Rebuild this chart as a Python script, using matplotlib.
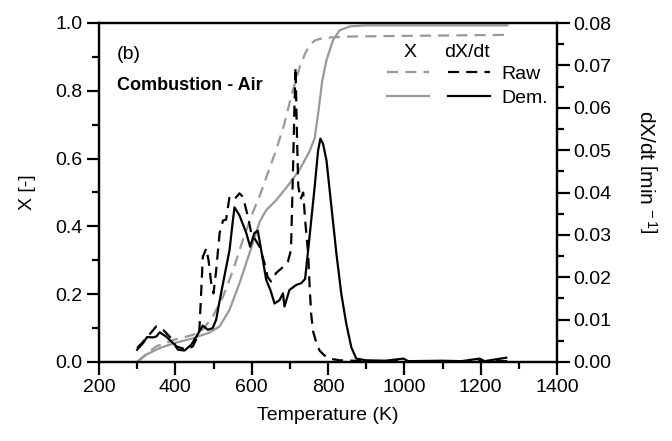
import matplotlib
matplotlib.use("Agg")
import matplotlib.pyplot as plt
from matplotlib.lines import Line2D
from matplotlib.legend_handler import HandlerTuple
from matplotlib.ticker import MultipleLocator

plt.rcParams['font.family'] = ['Liberation Sans', 'DejaVu Sans']
plt.rcParams['mathtext.fontset'] = 'custom'
plt.rcParams['mathtext.rm'] = 'Liberation Sans'
plt.rcParams['mathtext.it'] = 'Liberation Sans:italic'

# ---- data ----
# Conversion X, raw sample (gray dashed)
T_x_raw = [300, 325, 350, 398, 446, 472, 498, 525, 551, 577, 599, 621, 642, 664,
           685, 705, 726, 740, 752, 765, 778, 800, 850, 1000, 1270]
X_raw = [0.0, 0.025, 0.046, 0.066, 0.080, 0.095, 0.134, 0.193, 0.27, 0.36, 0.43, 0.49,
         0.556, 0.625, 0.70, 0.79, 0.87, 0.91, 0.935, 0.948, 0.953, 0.957, 0.96, 0.962, 0.965]

# Conversion X, demineralized sample (gray solid)
T_x_dem = [300, 324, 359, 398, 446, 490, 516, 542, 568, 594, 621, 638, 664, 699, 725,
           751, 765, 775, 785, 796, 813, 830, 857, 900, 1270]
X_dem = [0.0, 0.022, 0.041, 0.056, 0.070, 0.087, 0.105, 0.154, 0.232, 0.32, 0.414, 0.448,
         0.477, 0.526, 0.566, 0.62, 0.66, 0.74, 0.83, 0.89, 0.949, 0.978, 0.99, 0.993, 0.993]

# Rate dX/dt, raw sample (black dashed), min^-1
T_r_raw = [300, 324, 350, 368, 385, 402, 429, 446, 460, 463, 468, 472, 481, 487, 494, 500,
           507, 516, 525, 533, 542, 555, 568, 577, 590, 599, 621, 634, 642, 651, 664, 682,
           695, 703, 708, 712, 715, 718, 722, 728, 735, 740, 748, 752, 756, 761, 770, 778,
           790, 804, 830, 900, 1000, 1270]
R_raw = [0.0033, 0.0056, 0.0084, 0.0076, 0.0060, 0.0037, 0.0029, 0.0037, 0.0064, 0.0076,
         0.0170, 0.0248, 0.0268, 0.0240, 0.0186, 0.0162, 0.0216, 0.0304, 0.0334, 0.0336,
         0.0390, 0.0384, 0.0398, 0.0390, 0.0344, 0.0304, 0.0272, 0.0232, 0.0200, 0.0190,
         0.0210, 0.0224, 0.0237, 0.0264, 0.0440, 0.0600, 0.0696, 0.0560, 0.0416, 0.0384,
         0.0400, 0.0336, 0.0256, 0.0176, 0.0112, 0.0072, 0.0044, 0.0027, 0.0016, 0.0008,
         0.0004, 0.0002, 0.0002, 0.0002]

# Rate dX/dt, demineralized sample (black solid), min^-1
T_r_dem = [300, 315, 326, 340, 350, 359, 376, 390, 398, 407, 424, 442, 455, 463, 472, 485,
           498, 507, 516, 525, 542, 550, 555, 568, 586, 596, 607, 616, 625, 638, 649, 660,
           673, 682, 686, 699, 717, 730, 740, 748, 756, 765, 774, 780, 787, 796, 809, 822,
           835, 848, 861, 874, 900, 950, 998, 1010, 1100, 1150, 1197, 1210, 1267]
R_dem = [0.0029, 0.0044, 0.0059, 0.0058, 0.0060, 0.0070, 0.0060, 0.0048, 0.0041, 0.0029,
         0.0027, 0.0041, 0.0060, 0.0072, 0.0086, 0.0076, 0.0080, 0.0100, 0.0144, 0.0186,
         0.0264, 0.0328, 0.0365, 0.0346, 0.0304, 0.0272, 0.0304, 0.0310, 0.0264, 0.0194,
         0.0170, 0.0138, 0.0146, 0.0162, 0.0131, 0.0170, 0.0182, 0.0186, 0.0196, 0.0264,
         0.0334, 0.0413, 0.0499, 0.0527, 0.0515, 0.0476, 0.0366, 0.0256, 0.0160, 0.0090,
         0.0035, 0.0008, 0.0004, 0.0003, 0.0008, 0.0002, 0.0003, 0.0002, 0.0008, 0.0002, 0.0010]

x_ticks = [200, 400, 600, 800, 1000, 1200, 1400]
gray = '#999999'
fs = 14

# ---- figure ----
fig = plt.figure(figsize=(6.72, 4.41), dpi=100)
ax = fig.add_axes([99/672, 1 - 362/441, 458/672, 339/441])
ax2 = ax.twinx()

lw = 1.6
dash = (5, 3.2)
ax.plot(T_x_raw, X_raw, color=gray, lw=lw, dashes=dash)
ax.plot(T_x_dem, X_dem, color=gray, lw=lw)
ax2.plot(T_r_raw, R_raw, color='black', lw=lw, dashes=dash)
ax2.plot(T_r_dem, R_dem, color='black', lw=lw)

ax.set_xlim(200, 1400)
ax.set_ylim(0, 1.0)
ax2.set_ylim(0, 0.08)
ax.set_xticks(x_ticks)
ax.xaxis.set_minor_locator(MultipleLocator(100))
ax.yaxis.set_major_locator(MultipleLocator(0.2))
ax.yaxis.set_minor_locator(MultipleLocator(0.1))
ax2.yaxis.set_major_locator(MultipleLocator(0.01))
ax2.yaxis.set_minor_locator(MultipleLocator(0.005))
ax.yaxis.set_major_formatter(matplotlib.ticker.FormatStrFormatter('%.1f'))
ax2.yaxis.set_major_formatter(matplotlib.ticker.FormatStrFormatter('%.2f'))

for a in (ax, ax2):
    for s in a.spines.values():
        s.set_linewidth(1.6)
ax.tick_params(which='major', direction='out', length=9, width=1.6, labelsize=fs,
               top=False, right=False, pad=3)
ax.tick_params(which='minor', direction='out', length=5, width=1.6, top=False, right=False)
ax2.tick_params(which='major', direction='out', length=9, width=1.6, labelsize=fs, pad=3)
ax2.tick_params(which='minor', direction='out', length=5, width=1.6)

ax.set_xlabel('Temperature (K)', fontsize=fs, labelpad=8)
ax.set_ylabel('X [-]', fontsize=fs, labelpad=14)
ax2.set_ylabel(r'dX/dt $\left[\mathrm{min}^{\,-1}\right]$', fontsize=15, rotation=270,
               va='center', ha='center')
ax2.yaxis.set_label_coords(1.195, 0.56)

ax.text(0.039, 0.906, '(b)', transform=ax.transAxes, fontsize=fs, va='center', ha='left')
ax.text(0.039, 0.815, 'Combustion - Air', transform=ax.transAxes, fontsize=13,
        fontweight='bold', va='center', ha='left')

# legend
ax.text(0.679, 0.914, 'X', transform=ax.transAxes, fontsize=fs, va='center', ha='center')
ax.text(0.803, 0.914, 'dX/dt', transform=ax.transAxes, fontsize=fs, va='center', ha='center')
h_raw = (Line2D([], [], color=gray, lw=lw, dashes=dash),
         Line2D([], [], color='black', lw=lw, dashes=dash))
h_dem = (Line2D([], [], color=gray, lw=lw), Line2D([], [], color='black', lw=lw))
ax2.legend([h_raw, h_dem], ['Raw', 'Dem.'],
           handler_map={tuple: HandlerTuple(ndivide=None, pad=0.98)},
           loc='upper left', bbox_to_anchor=(0.629, 0.876), borderaxespad=0,
           borderpad=0, frameon=False, fontsize=fs, handlelength=5.3,
           handletextpad=0.6, labelspacing=0.35)

fig.savefig('out.png', dpi=100)
